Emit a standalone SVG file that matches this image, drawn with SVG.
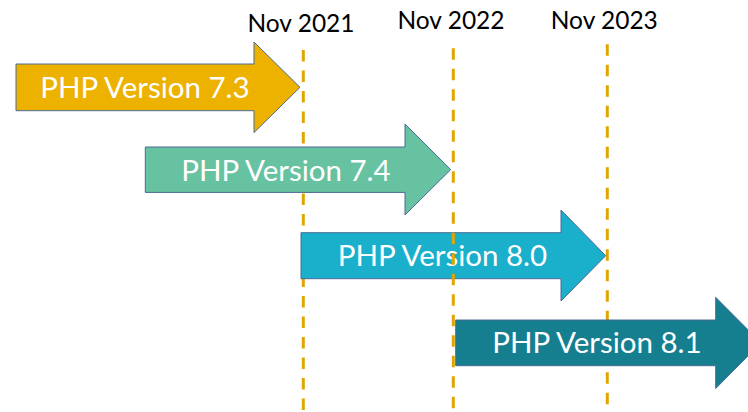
<svg xmlns="http://www.w3.org/2000/svg" width="748" height="412" viewBox="0 0 748 412">
<style>
.arrow{stroke:#4A6A96;stroke-width:1;stroke-linejoin:miter}
.lbl{font-family:Lato,"Open Sans","Liberation Sans",sans-serif;font-size:29.5px;fill:#ffffff;text-anchor:middle}
.date{font-family:Lato,"Open Sans","Liberation Sans",sans-serif;font-size:24.5px;fill:#000000;text-anchor:middle}
.mark{stroke:#E0A500;stroke-width:3;stroke-dasharray:11.5 9;fill:none}
</style>
<rect width="748" height="412" fill="#ffffff"/>
<g id="connectors">
<line id="line-2021" class="mark" x1="303.3" y1="50" x2="303.3" y2="412"/>
<line id="line-2023" class="mark" x1="607.3" y1="44.3" x2="607.3" y2="412"/>
</g>
<g id="node-php73">
<path class="arrow" fill="#EDB200" d="M16,64 H254 V42 L300,87.3 L254,132.6 V110.7 H16 Z"/>
<text class="lbl" x="145" y="97.7">PHP Version 7.3</text>
</g>
<g id="node-php74">
<path class="arrow" fill="#66C2A1" d="M145.3,147 H405 V124 L450.7,169.6 L405,215 V192.4 H145.3 Z"/>
<text class="lbl" x="286" y="181">PHP Version 7.4</text>
</g>
<g id="node-php80">
<path class="arrow" fill="#1AAFCB" d="M301,232.7 H561 V210 L605.7,255.7 L561,301 V278.7 H301 Z"/>
<text class="lbl" x="442.5" y="265.7">PHP Version 8.0</text>
</g>
<g id="connectors-top">
<line id="line-2022" class="mark" x1="453.3" y1="48.3" x2="453.3" y2="412"/>
</g>
<g id="node-php81">
<path class="arrow" fill="#157E8F" d="M455.7,320 H715.7 V297.3 L761,342.8 L715.7,388.5 V365.7 H455.7 Z"/>
<text class="lbl" x="597" y="353.3">PHP Version 8.1</text>
</g>
<g id="dates">
<text id="date-2021" class="date" x="301" y="32.3">Nov 2021</text>
<text id="date-2022" class="date" x="451" y="29.3">Nov 2022</text>
<text id="date-2023" class="date" x="604.3" y="29.3">Nov 2023</text>
</g>
</svg>
